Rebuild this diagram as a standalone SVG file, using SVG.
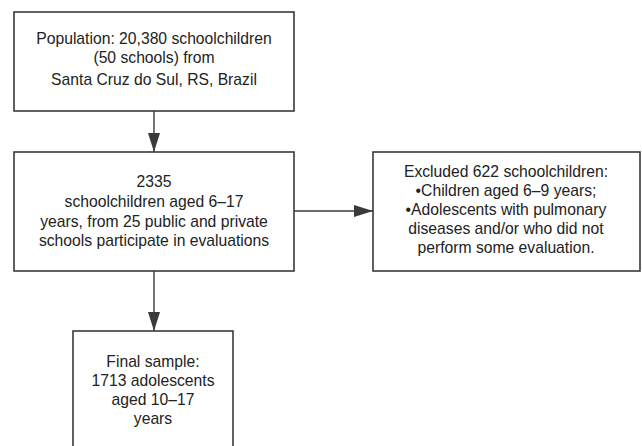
<svg xmlns="http://www.w3.org/2000/svg" width="642" height="446" viewBox="0 0 642 446">
<style>
.box{fill:#fff;stroke:#3a3a3a;stroke-width:1.6}
.t{font-family:"Liberation Sans",Arial,sans-serif;font-size:15.7px;fill:#222;text-anchor:middle}
.c{stroke:#3a3a3a;stroke-width:1.4;fill:none}
</style>
<defs>
<marker id="ah" viewBox="0 0 19 12" refX="19" refY="6" markerWidth="19" markerHeight="12" markerUnits="userSpaceOnUse" orient="auto">
<path d="M0,0 L19,6 L0,12 Z" fill="#3a3a3a"/>
</marker>
</defs>
<rect width="642" height="446" fill="#fff"/>
<g id="connectors">
<line class="c" x1="154" y1="111" x2="154" y2="152" marker-end="url(#ah)"/>
<line class="c" x1="294" y1="211" x2="373" y2="211" marker-end="url(#ah)"/>
<line class="c" x1="154" y1="271" x2="154" y2="331" marker-end="url(#ah)"/>
</g>
<g id="population">
<rect class="box" x="14" y="12" width="280" height="99"/>
<text class="t" x="154" y="44">Population: 20,380 schoolchildren</text>
<text class="t" x="154" y="63">(50 schools) from</text>
<text class="t" x="154" y="85">Santa Cruz do Sul, RS, Brazil</text>
</g>
<g id="participants">
<rect class="box" x="14" y="152" width="280" height="119"/>
<text class="t" x="154" y="187">2335</text>
<text class="t" x="154" y="207">schoolchildren aged 6–17</text>
<text class="t" x="154" y="227">years, from 25 public and private</text>
<text class="t" x="154" y="246">schools participate in evaluations</text>
</g>
<g id="excluded">
<rect class="box" x="373" y="152" width="267" height="119"/>
<text class="t" x="506" y="177">Excluded 622 schoolchildren:</text>
<text class="t" x="506" y="196">•Children aged 6–9 years;</text>
<text class="t" x="506" y="215">•Adolescents with pulmonary</text>
<text class="t" x="506" y="234">diseases and/or who did not</text>
<text class="t" x="506" y="253">perform some evaluation.</text>
</g>
<g id="final">
<rect class="box" x="73" y="331" width="160" height="130"/>
<text class="t" x="153" y="367">Final sample:</text>
<text class="t" x="153" y="386">1713 adolescents</text>
<text class="t" x="153" y="405">aged 10–17</text>
<text class="t" x="153" y="424">years</text>
</g>
</svg>
